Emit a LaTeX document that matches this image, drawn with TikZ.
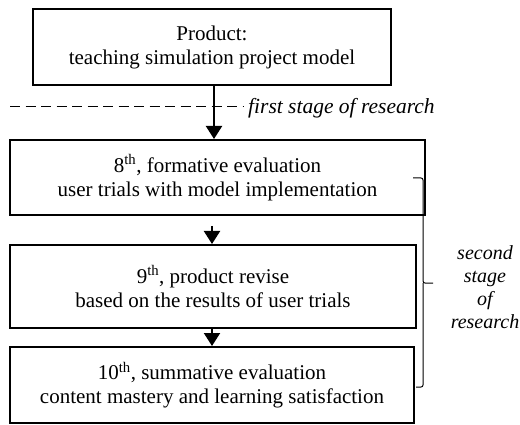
\documentclass[tikz,border=0pt]{standalone}
\usepackage{fontspec}
\setmainfont{Liberation Serif}
\usetikzlibrary{arrows.meta,calc}
\begin{document}
\begin{tikzpicture}[x=1pt,y=-1pt,
  stagebox/.style={draw, line width=2pt, inner sep=0pt, align=center,
    font=\fontsize{21}{24}\selectfont},
  flow/.style={line width=2pt, -{Triangle[length=13pt,width=16pt]}},
  lbl/.style={font=\fontsize{21.5}{23}\selectfont\itshape, inner sep=0pt, align=center},
  brace/.style={line width=1pt, rounded corners=2pt}]
\useasboundingbox (0,0) rectangle (520,425);
\node[stagebox, minimum width=358pt, minimum height=76pt] (b1) at (212,47)
  {Product:\\teaching simulation project model};
\node[stagebox, minimum width=415pt, minimum height=75pt] (b2) at (217.5,177.5)
  {8\textsuperscript{th}, formative evaluation\\user trials with model implementation};
\node[stagebox, minimum width=406pt, minimum height=83pt] (b3) at (213,286.5)
  {9\textsuperscript{th}, product revise\\based on the results of user trials};
\node[stagebox, minimum width=404pt, minimum height=76pt] (b4) at (212,385)
  {10\textsuperscript{th}, summative evaluation\\content mastery and learning satisfaction};
% dashed stage line
\coordinate (d1) at (10,107);
\coordinate (d2) at (244,107);
\draw[line width=1pt, dash pattern=on 10pt off 5.5pt] (d1) -- (d2);
\node[lbl, anchor=base west] (s1) at (248,114) {first stage of research};
% arrows
\draw[flow] ($(b1.south)+(2,0)$) -- ($(b2.north)+(-3.5,0)$);
\draw[flow, shorten <=10pt] ($(b2.south)+(-5.5,0)$) -- ($(b3.north)+(-1,0)$);
\draw[flow] ($(b3.south)+(-1,0)$) -- ($(b4.north)+(0,0)$);
% brace
\coordinate (bt) at (413,178);
\coordinate (bm) at (433,283);
\coordinate (bb) at (416,387);
\draw[brace] (bt) -- (423,178) -- (423,283) -- (bm);
\draw[brace] (bb) -- (423,387) -- (423,283);
\node[lbl, font=\fontsize{20}{23}\selectfont\itshape] (s2) at (485,287) {second\\stage\\of\\research};
\end{tikzpicture}
\end{document}
